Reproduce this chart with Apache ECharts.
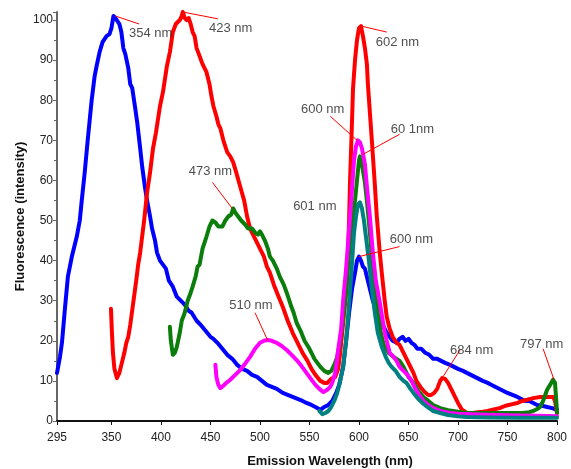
<!DOCTYPE html>
<html>
<head>
<meta charset="utf-8">
<script src="https://cdn.jsdelivr.net/npm/echarts@6/dist/echarts.min.js"></script>
<style>
  html, body { margin: 0; padding: 0; background: #fff; }
  #chart { width: 571px; height: 469px; }
</style>
</head>
<body>
<div id="chart"></div>
<script>
// x tick labels (nm)
const xTicks = [295, 350, 400, 450, 500, 550, 600, 650, 700, 750, 800]

// emission spectra, [wavelength nm, intensity]
const blueData = [[295,12],[298,16],[300,19.5],[303,28],[306,36],[310,41],[315,46],[318,50],[320,55],[323,62],[326,70],[330,80],[333,86],[335,88.5],[338,92],[341,94.5],[345,96],[348,96.5],[350,98],[352,101],[354,100.5],[356,100.5],[358,99],[360,97],[362,93],[364,91.5],[367,88],[369,84],[371,83],[374,78],[376,74.5],[379,68],[381,63.5],[384,58],[386,55],[389,51],[391,48],[394,45],[396,42],[399,40],[402,39],[405,38],[408,35],[412,33.5],[416,31],[420,30],[424,29],[428,27.5],[431,27],[436,25],[440,24],[445,22.5],[450,21],[453,20.5],[457,19.5],[462,18],[467,16.5],[472,15.5],[477,14],[482,13],[487,12.5],[492,11.5],[497,11],[502,10],[507,9],[512,8.5],[517,8],[523,7],[528,6.5],[533,6],[538,5.5],[543,5],[547,4.5],[552,4],[556,3.5],[561,2.8],[565,3.5],[569,4],[573,5],[577,7],[580,9],[584,13.5],[587,20],[590,27],[593,33],[596,37],[598,40],[600,41],[602,40],[604,38.5],[606,38],[608,36],[611,33],[614,30],[616,28.5],[618,27],[621,26],[624,24],[628,22],[631,21],[634,20],[638,19.5],[641,20.5],[644,21],[647,20],[650,20.5],[653,19.5],[656,19],[659,18],[663,18],[667,17],[671,16.5],[675,15.5],[679,15.5],[683,15],[687,14.5],[692,14],[696,13.5],[700,13],[705,12.5],[709,12],[713,11.5],[717,11],[721,10.5],[725,10],[730,9.5],[734,9],[738,8.5],[742,8],[746,7.5],[750,7],[755,6.5],[760,6],[764,5.5],[768,5],[772,5],[776,4.5],[780,4],[785,3.8],[790,3.5],[795,3.2],[800,2.8]]

const redData = [[349.5,28],[350.5,22],[351.5,17],[353,13],[355.5,10.7],[358,12],[360.5,14.5],[363,17],[365,19.5],[367,21],[369,24],[372,29.5],[375,35],[377,39],[379,42],[381,46],[383,50],[386,57],[389,62],[392,68],[395,72],[399,78.5],[402,82],[406,88.5],[409,92],[412,97],[415,99],[417,99.5],[419,100],[421,101],[422,102],[424,100.5],[426,100],[428,100.5],[430,99],[432,97],[434,96],[436,93],[439,91],[442,89],[446,87],[449,84],[451,81],[453,78.5],[456,76],[458,74],[460,73],[463,70],[467,67],[470,66],[473,64.5],[476,62],[480,58.5],[484,55],[487,51],[490,48],[492,47],[496,45],[500,43],[504,41],[507,38.5],[510,37],[514,34],[518,31.5],[523,28.5],[528,25],[533,22],[538,19.5],[543,17],[548,15],[552,13],[556,11.5],[561,10],[565,9.5],[568,9.5],[572,10.5],[576,11],[579,13],[581,17],[583,22],[585,27],[588,34.5],[590,50],[591,60],[593,75],[594,83],[596,90],[598,95],[600,98],[602,98.5],[604,96],[606,93],[608,89],[609,84],[611,77],[613,70],[616,59],[618,51],[621,42],[623,37],[626,30],[628,26],[631,23],[634,21],[638,19.5],[641,19],[645,17],[648,15.5],[651,14],[655,12],[658,10],[662,8.5],[666,7.3],[670,6.5],[673,6.5],[676,7],[679,8],[682,10],[684,10.7],[687,10.5],[690,9.5],[693,8],[697,6],[700,4.5],[704,2.8],[709,2],[715,2],[720,2.2],[725,2.3],[730,2.5],[735,2.8],[742,3.2],[748,3.8],[755,4.2],[760,4.5],[765,5],[770,5.3],[776,5.7],[783,6],[790,6],[796,6],[798,5],[800,2]]

const greenData = [[409,23.5],[410,20],[412,16.5],[414,17],[416,18.5],[419,22],[421,25],[424,27],[427,30],[430,32],[432,33.5],[435,36],[437,38.5],[439,39],[442,43],[446,46],[449,48.5],[452,50],[455,49.5],[458,48.5],[462,48.5],[465,50],[468,51],[471,51.5],[473,53],[475,52],[478,51],[481,50],[485,49],[488,48],[492,48],[495,47],[498,46.5],[500,47.3],[502,46.5],[505,45],[508,43],[510,41],[513,40],[517,38],[520,36],[524,34],[527,32],[531,29],[534,27],[537,24.5],[541,22.5],[545,20],[550,18],[555,15.5],[558,14.5],[561,13.5],[565,12.5],[569,12],[572,12.5],[575,14],[578,16],[581,20],[584,26],[587,33],[590,42],[593,50],[596,55],[598,60],[600,65],[601,66],[603,64],[606,59.5],[608,55],[611,47],[613,41],[616,34],[619,27],[622,22],[625,19],[630,17],[635,16],[641,15],[645,13.5],[650,11],[655,9.5],[660,7.5],[665,6],[669,5.2],[675,4],[682,3.2],[690,2.7],[700,2.3],[709,2],[720,2],[730,2],[742,2],[755,2],[765,2],[772,2.2],[776,2.5],[780,3],[783,3.5],[786,5],[790,7.8],[793,9],[796,10.3],[798,9.5],[799,6],[800,2]]

const magentaData = [[455,14],[456,11],[458,9],[460,8.2],[463,8.8],[466,9.5],[470,10.3],[475,11.5],[480,12.7],[485,14.3],[490,16],[495,18],[500,19.5],[504,20],[508,20.2],[512,20],[517,19.5],[522,18.7],[527,17.7],[532,16.5],[537,15.2],[542,13.7],[547,12],[552,10.3],[556,9],[560,8],[564,7.2],[568,7.8],[571,8.5],[573,9.5],[576,12],[579,17.7],[582,23],[584,30],[587,38],[591,51],[593,58],[595,65],[597,68.5],[599,70],[601,69.5],[603,68],[606,64],[608,58.5],[611,51],[614,42],[617,35],[621,29.5],[626,22],[631,17],[635,16],[638,15],[641,13.5],[645,12.5],[649,11.5],[653,10],[657,8],[662,6],[666,4.8],[670,4],[675,3.2],[682,2.5],[692,2],[700,1.8],[720,1.6],[740,1.5],[760,1.4],[780,1.3],[800,1.2]]

const tealData = [[560,2.5],[563,1.7],[566,2],[569,2.5],[572,3.5],[575,5],[578,7],[581,10],[584,13.5],[587,20],[589,26],[592,36],[595,47],[597,51],[599,54],[601,54.5],[603,53],[605,50],[607,46],[610,40],[613,33],[616,27],[619,22],[623,18.5],[627,16],[630,14.5],[633,13.5],[637,12.5],[641,11],[645,10],[648,9.5],[652,8],[655,7],[660,5.5],[665,4.3],[669,3.5],[675,2.5],[682,2],[690,1.5],[700,1.2],[709,1],[730,0.9],[760,0.8],[800,0.8]]

// peak annotations: text, anchor of text (left edge), leader line [from, to]
const annoText = ['354 nm', '423 nm', '602 nm', '600 nm', '60 1nm', '473 nm', '601 nm', '600 nm', '510 nm', '684 nm', '797 nm']
const annoAt = [[367.7,96.7],[448.5,98],[617,94.5],[541.5,77.7],[632,72.7],[428,62.2],[533.5,53.5],[631,45.2],[469,28.7],[692,17.7],[762.7,19]]
const leaders = [
  [[354,101],[378,99]],
  [[422,102],[457.5,100.3]],
  [[602,98.5],[628,97]],
  [[571,76],[598,70]],
  [[641,71.5],[604,66.5]],
  [[452,59.5],[472,53]],
  [[641,43.5],[600,41]],
  [[495,27],[508,20]],
  [[702,17.7],[684,10.7]],
  [[786,18],[797,10.3]]
]

const chart = echarts.init(document.getElementById('chart'))

function spectrum(data, color) {
  return {
    type: 'line',
    data: data,
    showSymbol: false,
    smooth: false,
    lineStyle: { color: color, width: 4, join: 'round', cap: 'round' },
    itemStyle: { color: color }
  }
}

chart.setOption({
  animation: false,
  backgroundColor: '#fff',
  textStyle: { fontFamily: 'Liberation Sans, Arial, sans-serif' },
  grid: { left: 57, right: 14, top: 12, bottom: 48, containLabel: false, outerBoundsMode: 'none' },
  xAxis: {
    type: 'value',
    min: 295,
    max: 800,
    name: 'Emission Wavelength (nm)',
    nameLocation: 'middle',
    nameGap: 34,
    nameMoveOverlap: false,
    nameTextStyle: { fontWeight: 'bold', fontSize: 13, color: '#111', padding: [0, 0, 0, 46] },
    splitLine: { show: false },
    axisLine: { lineStyle: { color: '#111', width: 2 } },
    axisTick: { customValues: xTicks, length: 4, lineStyle: { color: '#111' } },
    axisLabel: { customValues: xTicks, color: '#222', fontSize: 12, margin: 11 }
  },
  yAxis: {
    type: 'value',
    min: 0,
    max: 102,
    interval: 10,
    name: 'Fluorescence (intensity)',
    nameLocation: 'middle',
    nameGap: 30,
    nameMoveOverlap: false,
    nameTextStyle: { fontWeight: 'bold', fontSize: 13, color: '#111' },
    splitLine: { show: false },
    axisLine: { show: true, lineStyle: { color: '#666', width: 2 } },
    axisTick: { show: true, length: 4, lineStyle: { color: '#666' } },
    minorTick: { show: true, splitNumber: 2, length: 3, lineStyle: { color: '#666' } },
    axisLabel: { color: '#222', fontSize: 12, margin: 4, showMaxLabel: false }
  },
  series: [
    spectrum(blueData, '#0000ff'),
    spectrum(redData, '#ff0000'),
    spectrum(greenData, '#0b7d0b'),
    spectrum(magentaData, '#ff00ff'),
    spectrum(tealData, '#008080'),
    {
      type: 'lines',
      coordinateSystem: 'cartesian2d',
      silent: true,
      z: 5,
      lineStyle: { color: '#ff0000', width: 1, opacity: 1 },
      data: leaders.map(c => ({ coords: c }))
    },
    {
      type: 'scatter',
      symbolSize: 0,
      silent: true,
      z: 6,
      data: annoAt.map((p, i) => ({ value: p, name: annoText[i] })),
      label: {
        show: true,
        position: 'right',
        distance: 0,
        color: '#222',
        fontSize: 13,
        formatter: p => p.name
      }
    }
  ]
})
</script>
</body>
</html>
